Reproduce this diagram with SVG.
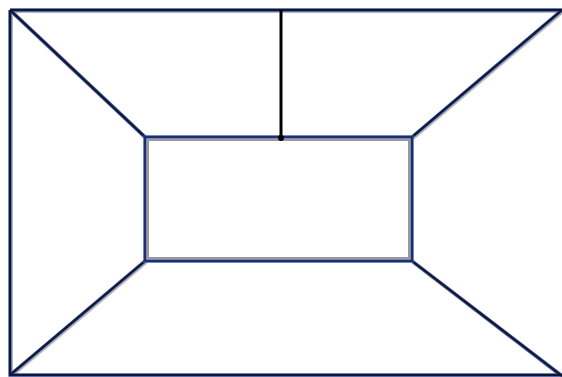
<svg xmlns="http://www.w3.org/2000/svg" width="562" height="377" viewBox="0 0 562 377">
<style>
.sh{fill:none;stroke:#b8b8b8;stroke-width:4}
.bl{fill:none;stroke:#3a56b0;stroke-width:3.4}
.dk{fill:none;stroke:#14172a;stroke-width:2}
</style>
<rect width="562" height="377" fill="#fff"/>
<g id="room">
<path class="sh" d="M10,10H562M10,10V375H562M10,10L145,137M10,375L145,261M412,137L562,10M412,261L562,376" transform="translate(1,1)"/>
<path class="bl" d="M10,10H562M10,10V375H562M10,10L145,137M10,375L145,261M412,137L562,10M412,261L562,376"/>
<path class="dk" d="M10,10H562M10,10V375H562M10,10L145,137M10,375L145,261M412,137L562,10M412,261L562,376"/>
<rect x="148" y="140" width="261" height="118" fill="none" stroke="#999" stroke-width="2"/>
<rect x="145" y="137" width="267" height="124" class="bl"/>
<rect x="145" y="137" width="267" height="124" fill="none" stroke="#1c2550" stroke-width="1.6"/>
</g>
<g id="rod">
<line x1="281" y1="10" x2="281" y2="138" stroke="#000" stroke-width="3"/>
<circle cx="281" cy="138" r="3" fill="#000"/>
</g>
</svg>
